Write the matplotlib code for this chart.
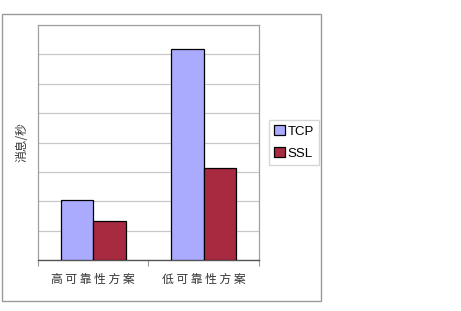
import matplotlib

matplotlib.use("Agg")
import matplotlib.pyplot as plt
import numpy as np
from matplotlib.patches import Rectangle

plt.rcParams["font.family"] = ["Noto Sans CJK SC", "DejaVu Sans"]

# ── data ────────────────────────────────────────────────────────────────
categories = ["高可靠性方案", "低可靠性方案"]
tcp = [2.03, 7.18]
ssl = [1.33, 3.13]
series_names = ["TCP", "SSL"]
colors = ["#AAAAFF", "#A82A40"]

# ── figure ──────────────────────────────────────────────────────────────
fig = plt.figure(figsize=(4.61, 3.11), dpi=100)
fig.patches.append(Rectangle((0.0043, 0.032), 0.692, 0.923, transform=fig.transFigure,
                             fill=False, edgecolor="#9a9a9a", lw=1.0))

ax = fig.add_axes([0.0824, 0.164, 0.4794, 0.7556])
x = np.arange(len(categories))
w = 0.294
for vals, name, c, off in zip([tcp, ssl], series_names, colors, [-w / 2, w / 2]):
    ax.bar(x + off, vals, width=w, color=c, edgecolor="black", lw=0.9, label=name, zorder=3)

ax.set_xlim(-0.5, 1.5)
ax.set_ylim(0, 8)
ax.set_yticks(np.arange(0, 9))
ax.yaxis.grid(True, color="#c8c8c8", lw=0.9, zorder=0)
ax.tick_params(axis="y", length=0, labelleft=False)
ax.set_xticks([-0.5, 0.5, 1.5])
ax.set_xticks(x, minor=True)
ax.set_xticklabels([])
ax.set_xticklabels([" ".join(c) for c in categories], minor=True, fontsize=8.5, color="#333333")
ax.tick_params(axis="x", which="major", length=4, color="#999999", width=0.8)
ax.tick_params(axis="x", which="minor", length=0, pad=9)
for s in ["left", "top", "right"]:
    ax.spines[s].set_color("#a0a0a0")
    ax.spines[s].set_linewidth(0.9)
ax.spines["bottom"].set_color("#555555")
ax.spines["bottom"].set_linewidth(1.0)

ax.set_ylabel("消息/秒", fontsize=8.5, labelpad=7, color="#333333")

leg = ax.legend(loc="center left", bbox_to_anchor=(1.045, 0.5),
                prop={"family": ["Liberation Sans", "DejaVu Sans"], "size": 9.5},
                frameon=True, fancybox=False, edgecolor="#cccccc",
                handlelength=0.8, handleheight=0.8, handletextpad=0.2,
                borderpad=0.4, labelspacing=0.7, borderaxespad=0)

fig.savefig("out.png", dpi=100)
